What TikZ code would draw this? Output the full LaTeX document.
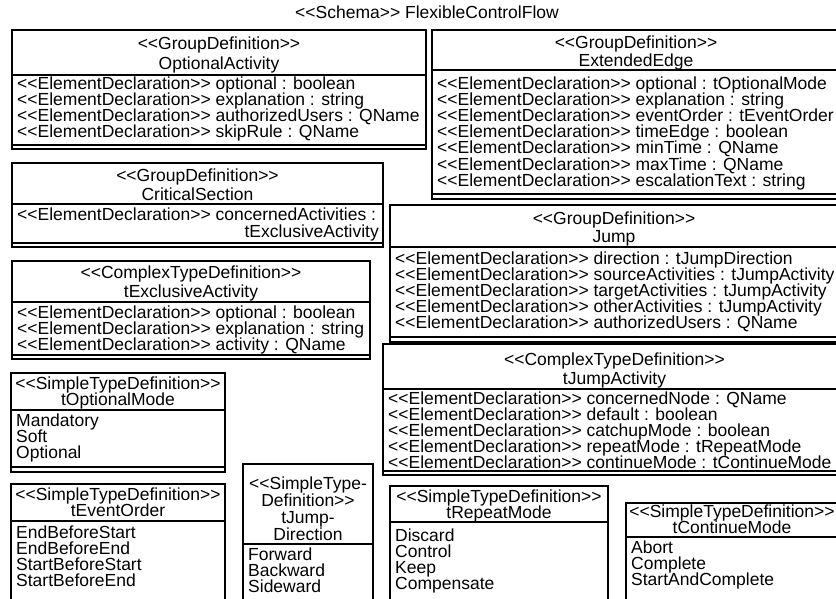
\documentclass[tikz,border=0pt]{standalone}
\usepackage{fontspec}
\setmainfont{Liberation Sans}
\newcommand\sopen{<\kern0pt<}
\newcommand\sclose{>\kern0pt>}
\newcommand\ed{\sopen ElementDeclaration\sclose\ }
\newcommand\umlfont{\fontsize{17.5}{16}\selectfont}
\tikzset{
  frame/.style={draw=black, line width=1.1pt},
  rowtext/.style={anchor=base west, inner sep=0pt, font=\umlfont},
  headtext/.style={anchor=base, inner sep=0pt, font=\umlfont},
}
% l t r b div dbl
\newcommand\umlbox[6]{%
  \draw[frame] (#1,#2) rectangle (#3,#4);
  \draw[frame] (#1,#5) -- (#3,#5);
  \draw[frame] (#1,#6) -- (#3,#6);}
\begin{document}
\begin{tikzpicture}[x=1pt,y=-1pt]
\useasboundingbox (0,0) rectangle (836,598);
\clip (0,0) rectangle (836,598);
\fill[white] (0,0) rectangle (836,598);

% title
\node[headtext] (title) at (427,18) {\sopen Schema\sclose{} FlexibleControlFlow};

% OptionalActivity
\umlbox{12}{30}{426}{149}{75}{145}
\node[headtext] (oah1) at (219,49) {\sopen GroupDefinition\sclose};
\node[headtext] (oah2) at (219,69) {OptionalActivity};
\foreach \t [count=\i] in {optional : boolean, explanation : string, authorizedUsers : QName, skipRule : QName}
  \node[rowtext] (oa\i) at (17,{89+16*(\i-1)}) {\ed\t};

% ExtendedEdge
\umlbox{432}{30}{840}{199}{70}{194}
\node[headtext] (eeh1) at (636,48) {\sopen GroupDefinition\sclose};
\node[headtext] (eeh2) at (636,66) {ExtendedEdge};
\foreach \t [count=\i] in {optional : tOptionalMode, explanation : string, eventOrder : tEventOrder, timeEdge : boolean, minTime : QName, maxTime : QName, escalationText : string}
  \node[rowtext] (ee\i) at (437,{89+16.2*(\i-1)}) {\ed\t};

% CriticalSection
\umlbox{12}{163}{383}{247}{204}{243}
\node[headtext] (csh1) at (197.5,181) {\sopen GroupDefinition\sclose};
\node[headtext] (csh2) at (197.5,200) {CriticalSection};
\node[rowtext] (cs1) at (17,220) {\ed concernedActivities :};
\node[anchor=base east, inner sep=0pt, font=\umlfont] (cs2) at (379,237) {tExclusiveActivity};

% Jump
\umlbox{390}{205}{838}{342}{247}{337}
\node[headtext] (jh1) at (614,224) {\sopen GroupDefinition\sclose};
\node[headtext] (jh2) at (614,242) {Jump};
\foreach \t [count=\i] in {direction : tJumpDirection, sourceActivities : tJumpActivity, targetActivities : tJumpActivity, otherActivities : tJumpActivity, authorizedUsers : QName}
  \node[rowtext] (j\i) at (395,{264+16.2*(\i-1)}) {\ed\t};

% tExclusiveActivity
\umlbox{12}{261}{370}{359}{302}{355}
\node[headtext] (xah1) at (191,278) {\sopen ComplexTypeDefinition\sclose};
\node[headtext] (xah2) at (191,297) {tExclusiveActivity};
\foreach \t [count=\i] in {optional : boolean, explanation : string, activity : QName}
  \node[rowtext] (xa\i) at (17,{318+16*(\i-1)}) {\ed\t};

% tJumpActivity
\umlbox{383}{344}{846}{475}{389}{471}
\node[headtext] (jah1) at (614.5,365) {\sopen ComplexTypeDefinition\sclose};
\node[headtext] (jah2) at (614.5,384) {tJumpActivity};
\foreach \t [count=\i] in {concernedNode : QName, default : boolean, catchupMode : boolean, repeatMode : tRepeatMode, continueMode : tContinueMode}
  \node[rowtext] (ja\i) at (388,{404+16*(\i-1)}) {\ed\t};

% tOptionalMode
\umlbox{11}{373}{225}{472}{410}{467}
\node[headtext] (omh1) at (118,389) {\sopen SimpleTypeDefinition\sclose};
\node[headtext] (omh2) at (118,405.5) {tOptionalMode};
\foreach \t [count=\i] in {Mandatory, Soft, Optional}
  \node[rowtext] (om\i) at (16,{426+16*(\i-1)}) {\t};

% tEventOrder
\umlbox{11}{484}{225}{640}{521}{636}
\node[headtext] (eoh1) at (118,500) {\sopen SimpleTypeDefinition\sclose};
\node[headtext] (eoh2) at (118,516.5) {tEventOrder};
\foreach \t [count=\i] in {EndBeforeStart, EndBeforeEnd, StartBeforeStart, StartBeforeEnd}
  \node[rowtext] (eo\i) at (16,{538+16*(\i-1)}) {\t};

% tJumpDirection
\umlbox{243}{464}{373}{640}{544}{636}
\node[headtext] (jdh1) at (308,489) {\sopen SimpleType-};
\node[headtext] (jdh2) at (308,506) {Definition\sclose};
\node[headtext] (jdh3) at (308,523) {tJump-};
\node[headtext] (jdh4) at (308,540) {Direction};
\foreach \t [count=\i] in {Forward, Backward, Sideward}
  \node[rowtext] (jd\i) at (248,{560+16*(\i-1)}) {\t};

% tRepeatMode
\umlbox{390}{486}{608}{640}{522}{636}
\node[headtext] (rmh1) at (499,502) {\sopen SimpleTypeDefinition\sclose};
\node[headtext] (rmh2) at (499,518.5) {tRepeatMode};
\foreach \t [count=\i] in {Discard, Control, Keep, Compensate}
  \node[rowtext] (rm\i) at (395,{541+16*(\i-1)}) {\t};

% tContinueMode
\umlbox{626}{503}{838}{640}{537}{636}
\node[headtext] (cmh1) at (732,517) {\sopen SimpleTypeDefinition\sclose};
\node[headtext] (cmh2) at (732,533.5) {tContinueMode};
\foreach \t [count=\i] in {Abort, Complete, StartAndComplete}
  \node[rowtext] (cm\i) at (631,{553+16*(\i-1)}) {\t};
\end{tikzpicture}
\end{document}
